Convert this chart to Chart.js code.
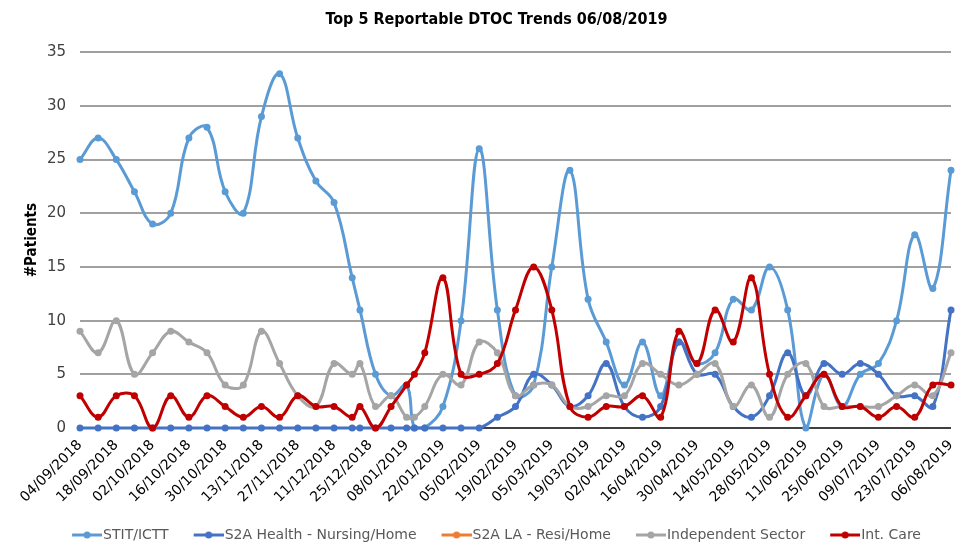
<!DOCTYPE html>
<html>
<head>
<meta charset="utf-8">
<style>
  html, body { margin: 0; padding: 0; background: #fff; }
  #wrap { width: 955px; height: 543px; }
</style>
</head>
<body>
<div id="wrap"><canvas id="dtoc"></canvas></div>
<script src="https://cdn.jsdelivr.net/npm/chart.js@4.4.0/dist/chart.umd.min.js"></script>
<script>
const dates = [
  "04/09/2018", "11/09/2018", "18/09/2018", "25/09/2018", "02/10/2018", "09/10/2018",
  "16/10/2018", "23/10/2018", "30/10/2018", "06/11/2018", "13/11/2018", "20/11/2018",
  "27/11/2018", "04/12/2018", "11/12/2018", "18/12/2018", "21/12/2018", "27/12/2018",
  "02/01/2019", "08/01/2019", "11/01/2019", "15/01/2019", "22/01/2019", "29/01/2019",
  "05/02/2019", "12/02/2019", "19/02/2019", "26/02/2019", "05/03/2019", "12/03/2019",
  "19/03/2019", "26/03/2019", "02/04/2019", "09/04/2019", "16/04/2019", "23/04/2019",
  "30/04/2019", "07/05/2019", "14/05/2019", "21/05/2019", "28/05/2019", "04/06/2019",
  "11/06/2019", "18/06/2019", "25/06/2019", "02/07/2019", "09/07/2019", "16/07/2019",
  "23/07/2019", "30/07/2019", "06/08/2019"
];

const stitIctt = [25, 27, 25, 22, 19, 20, 27, 28, 22, 20, 29, 33, 27, 23, 21, 14, 11, 5,
  3, 4, 0, 0, 2, 10, 26, 11, 3, 4, 15, 24, 12, 8, 4, 8, 3, 8, 6, 7, 12, 11, 15, 11,
  0, 5, 2, 5, 6, 10, 18, 13, 24];
const s2aHealth = [0, 0, 0, 0, 0, 0, 0, 0, 0, 0, 0, 0, 0, 0, 0, 0, 0, 0,
  0, 0, 0, 0, 0, 0, 0, 1, 2, 5, 4, 2, 3, 6, 2, 1, 2, 8, 5, 5, 2, 1, 3, 7,
  3, 6, 5, 6, 5, 3, 3, 2, 11];
const s2aLa = [];
const independent = [9, 7, 10, 5, 7, 9, 8, 7, 4, 4, 9, 6, 3, 2, 6, 5, 6, 2,
  3, 1, 1, 2, 5, 4, 8, 7, 3, 4, 4, 2, 2, 3, 3, 6, 5, 4, 5, 6, 2, 4, 1, 5,
  6, 2, 2, 2, 2, 3, 4, 3, 7];
const intCare = [3, 1, 3, 3, 0, 3, 1, 3, 2, 1, 2, 1, 3, 2, 2, 1, 2, 0,
  2, 4, 5, 7, 14, 5, 5, 6, 11, 15, 11, 2, 1, 2, 2, 3, 1, 9, 6, 11, 8, 14, 5, 1,
  3, 5, 2, 2, 1, 2, 1, 4, 4];

const seriesNames = ["STIT/ICTT", "S2A Health - Nursing/Home", "S2A LA - Resi/Home", "Independent Sector", "Int. Care"];
const seriesColours = ["#5B9BD5", "#4472C4", "#ED7D31", "#A5A5A5", "#C00000"];

const DAY = 86400000;
function parseDate(s) {
  const p = s.split("/");
  return Date.UTC(+p[2], +p[1] - 1, +p[0]);
}
const start = parseDate(dates[0]);
const dayNo = dates.map(d => Math.round((parseDate(d) - start) / DAY));
const lastDay = dayNo[dayNo.length - 1];

function fmt(day) {
  const d = new Date(start + day * DAY);
  const dd = String(d.getUTCDate()).padStart(2, "0");
  const mm = String(d.getUTCMonth() + 1).padStart(2, "0");
  return dd + "/" + mm + "/" + d.getUTCFullYear();
}

function points(values) {
  return values.map((v, i) => ({ x: dayNo[i], y: v }));
}

// line-with-dot swatch like the Excel legend (sticks out of the 24px box on the right)
function legendMarker(colour) {
  const c = document.createElement("canvas");
  c.width = 36; c.height = 10;
  const ctx = c.getContext("2d");
  ctx.strokeStyle = colour;
  ctx.lineWidth = 3;
  ctx.beginPath(); ctx.moveTo(6, 5); ctx.lineTo(36, 5); ctx.stroke();
  ctx.fillStyle = colour;
  ctx.beginPath(); ctx.arc(21, 5, 3.5, 0, Math.PI * 2); ctx.fill();
  return c;
}
const markers = seriesColours.map(legendMarker);

const allValues = [stitIctt, s2aHealth, s2aLa, independent, intCare];

const datasets = allValues.map((vals, i) => ({
  label: seriesNames[i],
  data: points(vals),
  borderColor: seriesColours[i],
  backgroundColor: seriesColours[i],
  borderWidth: 3,
  pointRadius: 3.5,
  pointBorderWidth: 0,
  tension: 0.4,
  clip: 6,
  order: allValues.length - i
}));

const ctx = document.getElementById("dtoc");

new Chart(ctx, {
  type: "line",
  data: { datasets: datasets },
  options: {
    responsive: true,
    maintainAspectRatio: false,
    animation: false,
    layout: { padding: { left: 38, right: 0, top: 0, bottom: -9 } },
    plugins: {
      title: {
        display: true,
        text: "Top 5 Reportable DTOC Trends 06/08/2019",
        color: "#000",
        font: { family: "'Liberation Sans Narrow', 'DejaVu Sans Condensed', sans-serif", size: 16, weight: "bold" },
        padding: { top: 10, bottom: 23 }
      },
      legend: {
        position: "bottom",
        labels: {
          color: "#595959",
          font: { family: "'DejaVu Sans', sans-serif", size: 14 },
          usePointStyle: true,
          pointStyleWidth: 24,
          padding: 25,
          generateLabels(chart) {
            const items = Chart.defaults.plugins.legend.labels.generateLabels(chart);
            items.forEach(it => { it.pointStyle = markers[it.datasetIndex]; });
            return items.sort((a, b) => a.datasetIndex - b.datasetIndex);
          }
        }
      },
      tooltip: { enabled: false }
    },
    scales: {
      x: {
        type: "linear",
        min: 0,
        max: lastDay,
        afterFit(scale) {
          scale.paddingLeft = 0;
          scale.paddingRight = 0;
          scale.height = 75;
        },
        grid: { display: false, drawTicks: false },
        border: { display: false },
        ticks: {
          stepSize: 14,
          autoSkip: false,
          minRotation: 45,
          maxRotation: 45,
          padding: 9,
          color: "#000",
          font: { family: "'DejaVu Sans', sans-serif", size: 14 },
          callback: (v) => fmt(v)
        }
      },
      y: {
        min: 0,
        max: 35,
        afterFit(scale) { scale.width = 42; },
        grid: {
          drawTicks: false,
          lineWidth: 2,
          color: (c) => (c.tick.value === 0 ? "#404040" : "#A0A0A0")
        },
        border: { display: false },
        ticks: {
          stepSize: 5,
          padding: 14,
          color: "#404040",
          font: { family: "'DejaVu Sans', sans-serif", size: 15 }
        },
        title: {
          display: true,
          text: "#Patients",
          color: "#000",
          font: { family: "'Liberation Sans Narrow', 'DejaVu Sans Condensed', sans-serif", size: 15, weight: "bold" },
          padding: { top: -15, bottom: 0 }
        }
      }
    }
  }
});
</script>
</body>
</html>
